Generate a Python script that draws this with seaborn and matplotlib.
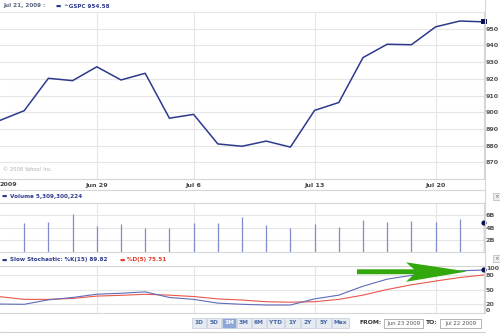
import matplotlib
matplotlib.use("Agg")
import matplotlib.pyplot as plt
import seaborn as sns
import pandas as pd
import numpy as np
from matplotlib.patches import Rectangle, Polygon
from matplotlib.lines import Line2D

# ---------------- data ----------------
dates = ["Jun 23", "Jun 24", "Jun 25", "Jun 26", "Jun 29", "Jun 30", "Jul 1", "Jul 2",
         "Jul 6", "Jul 7", "Jul 8", "Jul 9", "Jul 10", "Jul 13", "Jul 14", "Jul 15",
         "Jul 16", "Jul 17", "Jul 20", "Jul 21", "Jul 22"]
close = [895.1, 900.9, 920.3, 918.9, 927.2, 919.3, 923.3, 896.4, 898.7, 881.0, 879.6,
         882.7, 879.1, 901.1, 905.8, 932.7, 940.7, 940.4, 951.1, 954.6, 954.1]
volume_b = [None, 4.66, 4.91, 6.23, 4.25, 4.63, 3.92, 3.93, 4.71, 4.67, 5.72, 4.35,
            3.91, 4.50, 4.15, 5.24, 4.85, 5.14, 4.85, 5.31, 4.73]
stoch_k = [19, 18.5, 28, 33, 40, 42, 45, 33, 29, 21, 18.5, 17, 17, 30, 38, 57, 72,
           80, 86, 89.8, 91.5]
stoch_d = [34.7, 29, 29, 31, 36, 37.6, 39.8, 38, 35, 30, 27.6, 24, 23, 24, 29, 38,
           50, 60, 68, 75.5, 81]
week_ticks = ["Jun 29", "Jul 6", "Jul 13", "Jul 20"]
price_ticks = [870, 880, 890, 900, 910, 920, 930, 940, 950]
vol_ticks = [2, 4, 6]
vol_tick_labels = ["2B", "4B", "6B"]
stoch_ticks = [20, 50, 80]
buttons = ["1D", "5D", "1M", "3M", "6M", "YTD", "1Y", "2Y", "5Y", "Max"]

idx = list(range(len(dates)))
df = pd.DataFrame({"i": idx, "close": close, "k": stoch_k, "d": stoch_d})
week_pos = [dates.index(w) for w in week_ticks]

# ---------------- style ----------------
sns.set_style("white")
plt.rcParams["font.family"] = ["DejaVu Sans"]

W, H = 500, 335
fig = plt.figure(figsize=(W / 100, H / 100), dpi=100)

def fx(px):
    return px / W

def fy(py):
    return 1 - py / H

def add_axes_px(x0, y0, x1, y1):
    return fig.add_axes([fx(x0), fy(y1), fx(x1 - x0), (y1 - y0) / H])

GRID = "#e6e6e6"
SEP = "#d6d6d6"
TICKC = "#555555"
FS = 4.6
LFS = 4.1

def style_axes(ax, yticks, ylabels, ylim):
    ax.set_xlim(0, len(dates) - 1)
    ax.set_ylim(*ylim)
    ax.set_xticks(week_pos)
    ax.set_yticks(yticks)
    ax.set_yticklabels(ylabels)
    ax.yaxis.tick_right()
    ax.tick_params(axis="both", length=0, labelsize=FS, colors=TICKC, pad=1.2)
    for lab in ax.get_yticklabels():
        lab.set_fontweight("bold")
    ax.grid(True, color=GRID, lw=0.8)
    ax.set_axisbelow(True)
    for s in ["left", "bottom"]:
        ax.spines[s].set_visible(False)
    for s in ["top", "right"]:
        ax.spines[s].set_color(SEP)
        ax.spines[s].set_linewidth(0.8)
    ax.set_xlabel("")
    ax.set_ylabel("")

# ---------------- price panel ----------------
axp = add_axes_px(0, 12, 484, 179)
sns.lineplot(data=df, x="i", y="close", ax=axp, color="#2d3a8c", lw=1.1, legend=False)
sns.scatterplot(x=[idx[-1]], y=[close[-1]], ax=axp, color="#0a1250", s=14, marker="s",
                edgecolor="none", clip_on=False, zorder=5, legend=False)
style_axes(axp, price_ticks, [str(t) for t in price_ticks], (860, 960))
axp.spines["top"].set_color(GRID)
axp.set_xticklabels(week_ticks)
axp.tick_params(axis="x", pad=2.6, colors="#444444")
for lab in axp.get_xticklabels():
    lab.set_fontweight("bold")
axp.text(0, -0.02, "2009", transform=axp.transAxes, ha="left", va="top",
         fontsize=FS, fontweight="bold", color="#444444")
axp.text(0.006, 0.04, "\u00a9 2008 Yahoo! Inc.", transform=axp.transAxes, ha="left",
         va="bottom", fontsize=3.7, color="#b0b0b0")

# ---------------- volume panel ----------------
axv = add_axes_px(0, 203, 484, 252)
vi = [i for i, v in zip(idx, volume_b) if v is not None]
vv = [v for v in volume_b if v is not None]
axv.vlines(vi, 0, vv, color="#7f8bcc", lw=0.9)
sns.scatterplot(x=[idx[-1]], y=[volume_b[-1]], ax=axv, color="#0a1250", s=14,
                edgecolor="none", clip_on=False, zorder=5, legend=False)
style_axes(axv, vol_ticks, vol_tick_labels, (0, 8))
axv.set_xticklabels([])

# ---------------- stochastic panel ----------------
axs = add_axes_px(0, 266, 484, 313)
sns.lineplot(data=df, x="i", y="d", ax=axs, color="#e8574c", lw=0.8, legend=False)
sns.lineplot(data=df, x="i", y="k", ax=axs, color="#5f6bb9", lw=0.8, legend=False)
sns.scatterplot(x=[idx[-1]], y=[stoch_k[-1]], ax=axs, color="#0a1250", s=14,
                edgecolor="none", clip_on=False, zorder=6, legend=False)
style_axes(axs, stoch_ticks, [str(t) for t in stoch_ticks], (0, 100))
axs.set_xticklabels([])
axs.spines["bottom"].set_visible(True)
axs.spines["bottom"].set_color(SEP)
axs.text(1.004, 1.0, "100", transform=axs.transAxes, ha="left", va="top",
         fontsize=FS, fontweight="bold", color=TICKC)
axs.text(1.004, 0.0, "0", transform=axs.transAxes, ha="left", va="bottom",
         fontsize=FS, fontweight="bold", color=TICKC)

# green arrow annotation (pixel shape mapped to stochastic axes fraction)
def s_frac(px, py):
    return (px / 484, (313 - py) / 47)

arrow_px = [(357, 269.3), (414, 269.3), (406, 262.3), (467, 271.5), (406, 281.8),
            (414, 274.2), (357, 274.2)]
axs.add_patch(Polygon([s_frac(*p) for p in arrow_px], closed=True,
                      transform=axs.transAxes, facecolor="#32a80c",
                      edgecolor="none", clip_on=False, zorder=7))

# ---------------- separators ----------------
for yy in [179, 189.5, 252]:
    fig.add_artist(Line2D([0, fx(484)], [fy(yy), fy(yy)], color=SEP, lw=0.8))
fig.add_artist(Line2D([fx(484.5), fx(484.5)], [fy(0), fy(313)], color=SEP, lw=0.8))
fig.add_artist(Line2D([0, fx(485)], [fy(331.5), fy(331.5)], color="#d0d0d0", lw=0.8))

# ---------------- legends ----------------
def ftext(px, py, s, **kw):
    fig.text(fx(px), fy(py), s, va="center", ha="left", **kw)

ftext(3, 6, "Jul 21, 2009 :", fontsize=LFS, fontweight="bold", color="#56647f")
ftext(56, 6, "\u25ac", fontsize=LFS, color="#2d3a8c")
ftext(64, 6, "^GSPC 954.58", fontsize=LFS, fontweight="bold", color="#2d3a8c")
ftext(2, 196, "\u25ac", fontsize=LFS, color="#2d3a8c")
ftext(10, 196, "Volume 5,309,300,224", fontsize=LFS, fontweight="bold", color="#2d3a8c")
ftext(2, 260, "\u25ac", fontsize=LFS, color="#2d3a8c")
ftext(10, 260, "Slow Stochastic: %K(15) 89.82", fontsize=LFS, fontweight="bold",
      color="#2d3a8c")
ftext(119, 260, "\u25ac", fontsize=LFS, color="#e03a2a")
ftext(127, 260, "%D(5) 75.51", fontsize=LFS, fontweight="bold", color="#e03a2a")

# close boxes
for yb in [193, 255]:
    fig.add_artist(Rectangle((fx(493), fy(yb + 7)), fx(7), 7 / H, facecolor="#eeeeee",
                             edgecolor="#b5b5b5", lw=0.5))
    fig.text(fx(496.5), fy(yb + 3.5), "\u00d7", ha="center", va="center", fontsize=4,
             color="#666666")

# ---------------- range buttons ----------------
btn_x = [192, 207, 222, 237, 252, 267, 285, 301, 316, 332]
btn_w = [14, 14, 14, 14, 14, 17, 15, 14, 15, 17]
for lab, bx, bw in zip(buttons, btn_x, btn_w):
    active = lab == "1M"
    fig.add_artist(Rectangle((fx(bx), fy(328)), fx(bw), 10 / H,
                             facecolor="#8da8d8" if active else "#e6ebf1",
                             edgecolor="#c3ccd8", lw=0.5))
    fig.text(fx(bx + bw / 2), fy(323), lab, ha="center", va="center", fontsize=4.2,
             fontweight="bold", color="white" if active else "#4a68a8")

ftext(359, 323, "FROM:", fontsize=4.4, fontweight="bold", color="#333333")
ftext(426, 323, "TO:", fontsize=4.4, fontweight="bold", color="#333333")
for bx0, bx1, s in [(384, 423, "Jun 23 2009"), (440, 481, "Jul 22 2009")]:
    fig.add_artist(Rectangle((fx(bx0), fy(328)), fx(bx1 - bx0), 9.5 / H,
                             facecolor="white", edgecolor="#a8a8a8", lw=0.6))
    fig.text(fx((bx0 + bx1) / 2), fy(323), s, ha="center", va="center", fontsize=4.0,
             color="#555555")

fig.savefig("out.png", dpi=100, facecolor="white")
